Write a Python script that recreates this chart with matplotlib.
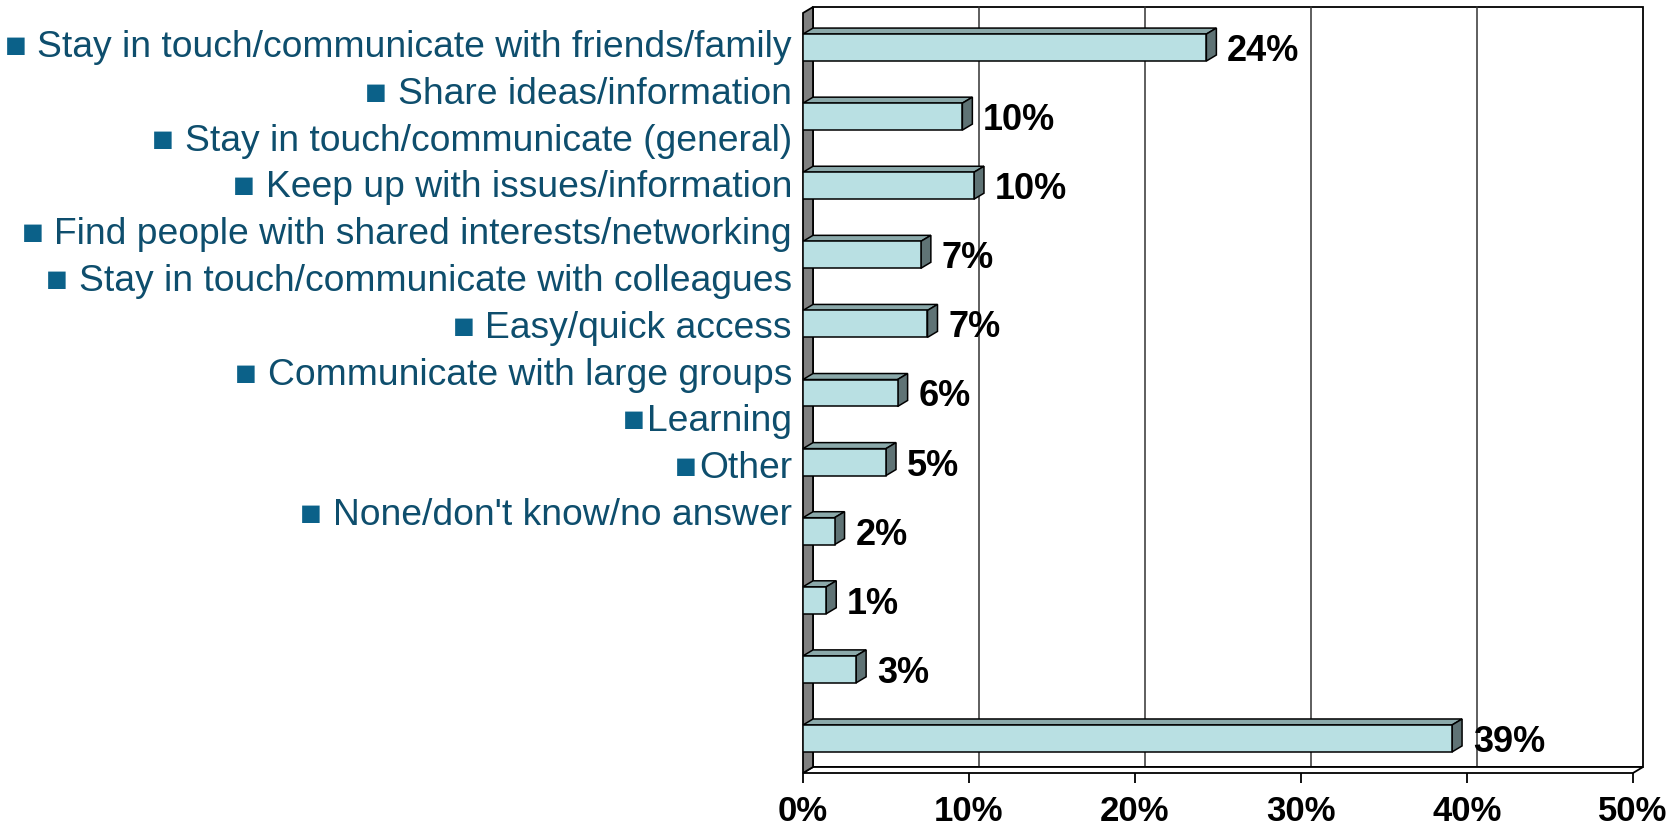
import matplotlib
matplotlib.use('Agg')
import matplotlib.pyplot as plt
from matplotlib.patches import Polygon

# answers shown as text on the left (listed top to bottom)
answers = [
    'Stay in touch/communicate with friends/family',
    'Share ideas/information',
    'Stay in touch/communicate (general)',
    'Keep up with issues/information',
    'Find people with shared interests/networking',
    'Stay in touch/communicate with colleagues',
    'Easy/quick access',
    'Communicate with large groups',
    'Learning',
    'Other',
    "None/don't know/no answer",
]
# bars, top to bottom
bar_values = [24.3, 9.6, 10.3, 7.1, 7.5, 5.7, 5.0, 1.9, 1.4, 3.2, 39.1]
bar_labels = ['24%', '10%', '10%', '7%', '7%', '6%', '5%', '2%', '1%', '3%', '39%']
x_ticks = [0, 10, 20, 30, 40, 50]
x_ticklabels = ['0%', '10%', '20%', '30%', '40%', '50%']

W, H = 1674, 832
FONT = 'Liberation Sans'
TEXT_COLOR = '#0e4e6d'
BULLET_COLOR = '#0b6189'
FRONT = '#b9e0e3'
TOP = '#8ba9aa'
SIDE = '#5f7375'


def main():
    fig = plt.figure(figsize=(W / 100, H / 100), dpi=100)
    ax = fig.add_axes([803 / W, 59 / H, 830 / W, 760 / H])
    n = len(bar_values)
    ax.set_xlim(0, 50)
    ax.set_ylim(n - 0.5, -0.5)

    # depth of the fake 3d effect, in data units
    dx = 10 / (830 / 50)
    dy = 6 / (760 / n)
    y0, y1 = n - 0.5, -0.5

    # back wall with gridlines
    ax.add_patch(Polygon([(dx, y0 - dy), (50 + dx, y0 - dy), (50 + dx, y1 - dy), (dx, y1 - dy)],
                         closed=True, facecolor='white', edgecolor='black', lw=1.3,
                         clip_on=False, zorder=0))
    for t in x_ticks[1:-1]:
        ax.plot([t + dx, t + dx], [y0 - dy, y1 - dy], color='#333333', lw=1.1,
                clip_on=False, zorder=0.5)
    # floor
    ax.add_patch(Polygon([(0, y0), (50, y0), (50 + dx, y0 - dy), (dx, y0 - dy)],
                         closed=True, facecolor='white', edgecolor='black', lw=1.3,
                         clip_on=False, zorder=1))
    # left wall
    ax.add_patch(Polygon([(0, y0), (0, y1), (dx, y1 - dy), (dx, y0 - dy)],
                         closed=True, facecolor='#808080', edgecolor='black', lw=1.3,
                         clip_on=False, zorder=1))

    h = 0.39
    ypos = list(range(n))
    ax.barh(ypos, bar_values, height=h, color=FRONT, edgecolor='black', lw=1.1, zorder=3)
    for y, v, lab in zip(ypos, bar_values, bar_labels):
        top = y - h / 2
        bot = y + h / 2
        ax.add_patch(Polygon([(0, top), (v, top), (v + dx, top - dy), (dx, top - dy)],
                             closed=True, facecolor=TOP, edgecolor='black', lw=1.1,
                             zorder=2.5, clip_on=False))
        ax.add_patch(Polygon([(v, top), (v, bot), (v + dx, bot - dy), (v + dx, top - dy)],
                             closed=True, facecolor=SIDE, edgecolor='black', lw=1.1,
                             zorder=2.5, clip_on=False))
        ax.annotate(lab, (v, y), xytext=(15, 0), textcoords='offset points',
                    ha='left', va='center_baseline', fontsize=26, fontweight='bold',
                    family=FONT, color='black', zorder=4)

    for s in ax.spines.values():
        s.set_visible(False)
    ax.set_facecolor('none')
    ax.set_yticks([])
    ax.set_xticks(x_ticks)
    ax.set_xticklabels(x_ticklabels, fontsize=25, fontweight='bold', family=FONT)
    ax.tick_params(axis='x', direction='out', length=7.5, width=1.3, pad=8)

    # labels at the left, with square bullets
    renderer = fig.canvas.get_renderer()
    for i, txt in enumerate(answers):
        base = 57 + 46.8 * i
        t = fig.text(792 / W, 1 - base / H, txt, ha='right', va='baseline',
                     fontsize=26.8, family=FONT, color=TEXT_COLOR)
        bb = t.get_window_extent(renderer)
        gap = 2 if txt in ('Learning', 'Other') else 11
        fig.text((bb.x0 - gap) / W, 1 - base / H, '\u25a0', ha='right', va='baseline',
                 fontsize=26, family=[FONT, 'DejaVu Sans'], color=BULLET_COLOR)

    fig.savefig('out.png', dpi=100)


if __name__ == '__main__':
    main()
